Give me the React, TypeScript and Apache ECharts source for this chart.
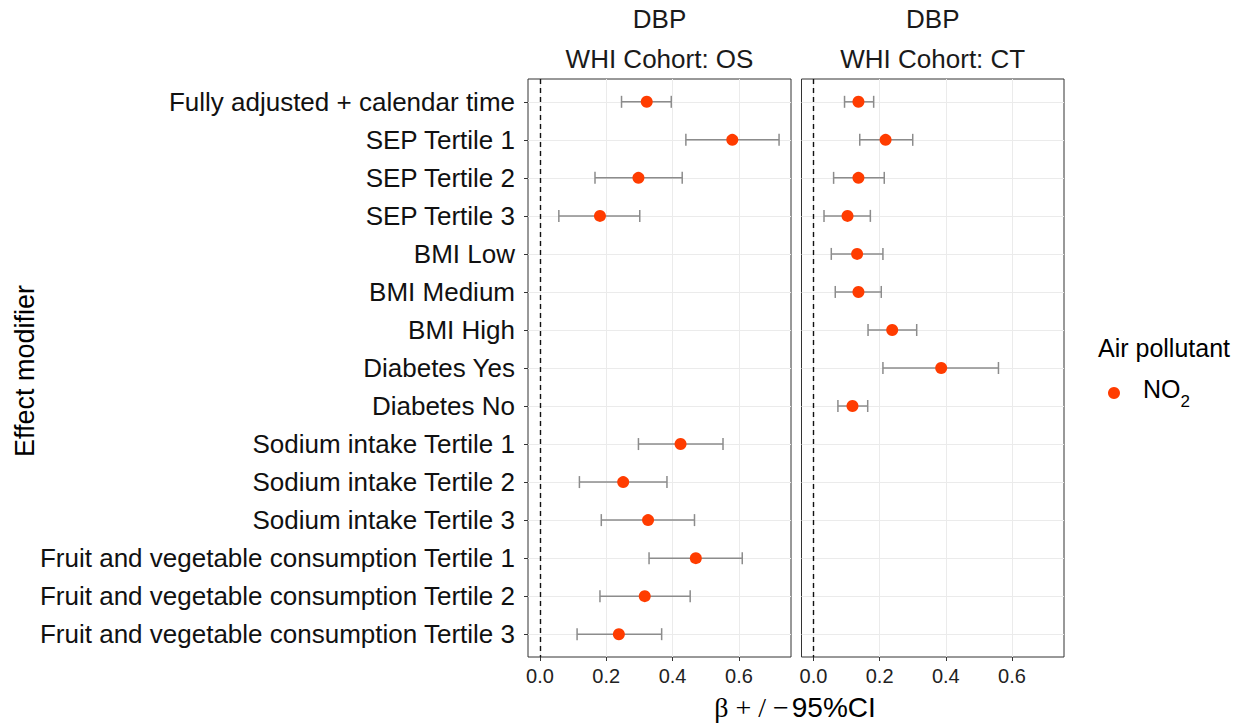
import React, { useEffect, useRef } from "react";
import * as echarts from "echarts";

const categories = [
  "Fully adjusted + calendar time",
  "SEP Tertile 1",
  "SEP Tertile 2",
  "SEP Tertile 3",
  "BMI Low",
  "BMI Medium",
  "BMI High",
  "Diabetes Yes",
  "Diabetes No",
  "Sodium intake Tertile 1",
  "Sodium intake Tertile 2",
  "Sodium intake Tertile 3",
  "Fruit and vegetable consumption Tertile 1",
  "Fruit and vegetable consumption Tertile 2",
  "Fruit and vegetable consumption Tertile 3",
];

// WHI Cohort: OS
const osEst = [0.322, 0.58, 0.297, 0.181, null, null, null, null, null, 0.424, 0.251, 0.326, 0.47, 0.316, 0.238];
const osLow = [0.246, 0.44, 0.166, 0.057, null, null, null, null, null, 0.297, 0.119, 0.185, 0.329, 0.181, 0.112];
const osHigh = [0.396, 0.721, 0.429, 0.301, null, null, null, null, null, 0.552, 0.383, 0.466, 0.61, 0.453, 0.367];

// WHI Cohort: CT
const ctEst = [0.136, 0.218, 0.136, 0.103, 0.132, 0.136, 0.238, 0.386, 0.118, null, null, null, null, null, null];
const ctLow = [0.094, 0.14, 0.061, 0.032, 0.054, 0.066, 0.165, 0.21, 0.074, null, null, null, null, null, null];
const ctHigh = [0.182, 0.3, 0.214, 0.172, 0.21, 0.205, 0.312, 0.559, 0.164, null, null, null, null, null, null];

const xTicks = [0, 0.2, 0.4, 0.6];
const xMin = -0.036;
const xMax = 0.757;
const panelTitles = ["WHI Cohort: OS", "WHI Cohort: CT"];
const outcome = "DBP";
const seriesName = "NO2";

const FONT = "'Liberation Sans', Arial, sans-serif";
const SERIF = "'Liberation Serif', 'DejaVu Serif', serif";
const POINT = "#FF3C00";
const ERR = "#8C8C8C";

const rowIdx = categories.map((_, i) => i);

function errSeries(axis: number, lo: (number | null)[], hi: (number | null)[]) {
  const data: number[][] = [];
  lo.forEach((l, i) => {
    const h = hi[i];
    if (l != null && h != null) data.push([l, h, i]);
  });
  return {
    type: "custom",
    xAxisIndex: axis,
    yAxisIndex: axis,
    silent: true,
    data,
    encode: { x: [0, 1], y: 2 },
    renderItem: (_p: any, api: any) => {
      const y = api.value(2);
      const a = api.coord([api.value(0), y]);
      const b = api.coord([api.value(1), y]);
      const h = 6;
      const style = { stroke: ERR, lineWidth: 1.5, fill: null };
      return {
        type: "group",
        children: [
          { type: "line", shape: { x1: a[0], y1: a[1], x2: b[0], y2: b[1] }, style },
          { type: "line", shape: { x1: a[0], y1: a[1] - h, x2: a[0], y2: a[1] + h }, style },
          { type: "line", shape: { x1: b[0], y1: b[1] - h, x2: b[0], y2: b[1] + h }, style },
        ],
      };
    },
    z: 3,
  };
}

function pointSeries(axis: number, est: (number | null)[]) {
  const data: number[][] = [];
  est.forEach((v, i) => {
    if (v != null) data.push([v, i]);
  });
  return {
    type: "scatter",
    name: seriesName,
    xAxisIndex: axis,
    yAxisIndex: axis,
    data,
    symbol: "circle",
    symbolSize: 12,
    itemStyle: { color: POINT, opacity: 1 },
    z: 4,
    markLine: {
      silent: true,
      symbol: "none",
      label: { show: false },
      lineStyle: { type: [5, 4], color: "#111", width: 1.4 },
      data: [{ xAxis: 0 }],
    },
  };
}

export default function App() {
  const ref = useRef<HTMLDivElement>(null);
  useEffect(() => {
    document.body.style.margin = "0";
    if (!ref.current) return;
    const chart = echarts.init(ref.current, undefined, { renderer: "svg" });
    const grids = [
      { left: 528, top: 79, width: 263, height: 578 },
      { left: 801.5, top: 79, width: 262.5, height: 578 },
    ];
    const xAxes = grids.map((_, k) => ({
      type: "value",
      gridIndex: k,
      position: "bottom",
      min: xMin,
      max: xMax,
      axisLine: { show: false, onZero: false },
      axisTick: {
        show: true,
        customValues: xTicks,
        length: 4,
        lineStyle: { color: "#333", width: 1 },
      },
      axisLabel: {
        customValues: xTicks,
        formatter: (v: number) => v.toFixed(1),
        fontSize: 20,
        fontFamily: FONT,
        color: "#222",
        margin: 9,
      },
      splitLine: { show: true, lineStyle: { color: "#EBEBEB", width: 1 } },
    }));
    const yAxes = grids.map((_, k) => ({
      type: "value",
      gridIndex: k,
      position: "left",
      inverse: true,
      min: -0.6,
      max: 14.6,
      axisLine: { show: false, onZero: false },
      axisTick: {
        show: k === 0,
        customValues: rowIdx,
        length: 4,
        lineStyle: { color: "#333", width: 1 },
      },
      axisLabel: {
        show: k === 0,
        customValues: rowIdx,
        formatter: (v: number) => categories[Math.round(v)] ?? "",
        fontSize: 26,
        fontFamily: FONT,
        color: "#111",
        margin: 13,
      },
      splitLine: { show: true, lineStyle: { color: "#EBEBEB", width: 1 } },
    }));
    const centers = grids.map((g) => g.left + g.width / 2);
    const graphics: any[] = [];
    centers.forEach((cx, k) => {
      graphics.push({
        type: "text",
        x: cx,
        y: 19,
        style: { text: outcome, fontSize: 26, fontFamily: FONT, fill: "#1a1a1a", align: "center", verticalAlign: "middle", textAlign: "center", textVerticalAlign: "middle" },
      });
      graphics.push({
        type: "text",
        x: cx,
        y: 59,
        style: { text: panelTitles[k], fontSize: 26, fontFamily: FONT, fill: "#1a1a1a", align: "center", verticalAlign: "middle", textAlign: "center", textVerticalAlign: "middle" },
      });
    });
    graphics.push({
      type: "text",
      x: 1098,
      y: 348,
      style: { text: "Air pollutant", fontSize: 25, fontFamily: FONT, fill: "#000", align: "left", verticalAlign: "middle", textAlign: "left", textVerticalAlign: "middle" },
    });
    graphics.push({
      type: "text",
      x: 25,
      y: 371,
      rotation: Math.PI / 2,
      style: { text: "Effect modifier", fontSize: 27, fontFamily: FONT, fill: "#000", align: "center", verticalAlign: "middle", textAlign: "center", textVerticalAlign: "middle" },
    });
    graphics.push({
      type: "text",
      x: 795,
      y: 707,
      style: {
        text: "{g|β + / −}{t|95%CI}",
        align: "center",
        verticalAlign: "middle",
        textAlign: "center",
        textVerticalAlign: "middle",
        fill: "#000",
        rich: {
          g: { fontSize: 28, fontFamily: SERIF, fill: "#000", color: "#000", padding: [0, 3, 0, 0] },
          t: { fontSize: 28, fontFamily: FONT, fill: "#000", color: "#000" },
        },
      },
    });

    chart.setOption({
      animation: false,
      backgroundColor: "#fff",
      grid: grids.map((g) => ({ ...g, show: true, borderColor: "#333", borderWidth: 1, backgroundColor: "transparent", containLabel: false })),
      xAxis: xAxes,
      yAxis: yAxes,
      legend: {
        data: [seriesName],
        left: 1103,
        top: 371,
        orient: "vertical",
        icon: "circle",
        itemWidth: 12,
        itemHeight: 12,
        selectedMode: false,
        formatter: () => "{a|NO}{b|2}",
        textStyle: {
          fontFamily: FONT,
          color: "#000",
          rich: {
            a: { fontSize: 25, lineHeight: 34, fontFamily: FONT, color: "#000", padding: [0, 0, 0, 18], verticalAlign: "top" },
            b: { fontSize: 17, lineHeight: 17, fontFamily: FONT, color: "#000", verticalAlign: "bottom" },
          },
        },
      },
      graphic: graphics,
      series: [
        errSeries(0, osLow, osHigh),
        pointSeries(0, osEst),
        errSeries(1, ctLow, ctHigh),
        pointSeries(1, ctEst),
      ],
    });
    return () => chart.dispose();
  }, []);
  return <div ref={ref} style={{ width: 1241, height: 724 }} />;
}
